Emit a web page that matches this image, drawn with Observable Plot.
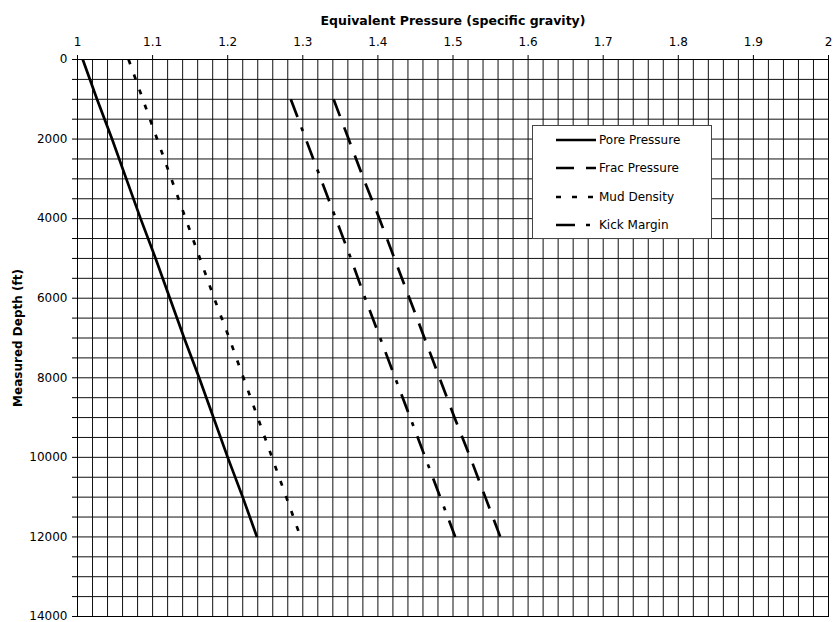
<!DOCTYPE html>
<html>
<head>
<meta charset="utf-8">
<script src="https://cdn.jsdelivr.net/npm/d3@7"></script>
<script src="https://cdn.jsdelivr.net/npm/@observablehq/plot@0.6"></script>
<style>
  html, body { margin: 0; padding: 0; background: #fff; }
  #wrap { position: relative; width: 836px; height: 622px; font-family: "DejaVu Sans", sans-serif; }
  #legend { position: absolute; left: 532px; top: 125px; width: 178px; height: 112px; border: 1px solid #444; background: #fff; box-sizing: content-box; }
  .row { position: absolute; left: 0; height: 16px; display: flex; align-items: center; font-size: 12px; color: #000; }
  .row svg { margin-left: 23px; margin-right: 3px; }
</style>
</head>
<body>
<div id="wrap"></div>
<script>
// ---- data ----
const depthsFull = [0, 1000, 2000, 3000, 4000, 5000, 6000, 7000, 8000, 9000, 10000, 11000, 12000];
const depthsFrom1000 = [1000, 2000, 3000, 4000, 5000, 6000, 7000, 8000, 9000, 10000, 11000, 12000];
const porePressure = [1.007, 1.026, 1.046, 1.065, 1.084, 1.104, 1.123, 1.142, 1.162, 1.181, 1.200, 1.220, 1.239];
const mudDensity   = [1.068, 1.087, 1.106, 1.125, 1.144, 1.163, 1.182, 1.202, 1.221, 1.240, 1.259, 1.278, 1.297];
const fracPressure = [1.341, 1.361, 1.381, 1.402, 1.422, 1.442, 1.462, 1.482, 1.502, 1.523, 1.543, 1.563];
const kickMargin   = [1.284, 1.304, 1.324, 1.344, 1.364, 1.383, 1.403, 1.423, 1.443, 1.463, 1.483, 1.503];
const xTickLabels = [1, 1.1, 1.2, 1.3, 1.4, 1.5, 1.6, 1.7, 1.8, 1.9, 2];
const yTickLabels = [0, 2000, 4000, 6000, 8000, 10000, 12000, 14000];
const seriesNames = ["Pore Pressure", "Frac Pressure", "Mud Density", "Kick Margin"];
const dashes = {"Pore Pressure": null, "Frac Pressure": "18,12", "Mud Density": "5,11", "Kick Margin": "19,11,4,11"};
const xTitle = "Equivalent Pressure (specific gravity)";
const yTitle = "Measured Depth (ft)";

// ---- tables ----
const toRows = (depths, vals) => depths.map((d, i) => ({depth: d, sg: vals[i]}));
const tables = {
  "Pore Pressure": toRows(depthsFull, porePressure),
  "Frac Pressure": toRows(depthsFrom1000, fracPressure),
  "Mud Density": toRows(depthsFull, mudDensity),
  "Kick Margin": toRows(depthsFrom1000, kickMargin)
};
const xGrid = d3.range(0, 51).map(i => +(1 + i * 0.02).toFixed(2));
const yGrid = d3.range(0, 29).map(i => i * 500);

const lineW = 2.7;
const chart = Plot.plot({
  width: 836,
  height: 622,
  marginLeft: 77,
  marginRight: 8,
  marginTop: 59,
  marginBottom: 6,
  style: {fontFamily: "'DejaVu Sans', sans-serif", fontSize: "12px", color: "#000", background: "#fff", overflow: "visible"},
  x: {domain: [1, 2]},
  y: {domain: [0, 14000], reverse: true},
  marks: [
    Plot.ruleX(xGrid, {stroke: "#111", strokeWidth: 1}),
    Plot.ruleY(yGrid, {stroke: "#111", strokeWidth: 1}),
    Plot.frame({stroke: "#000", strokeWidth: 1}),
    Plot.axisX(xTickLabels, {anchor: "top", tickSize: 5, tickPadding: 9, tickFormat: d => String(d), label: null, fontSize: 12}),
    Plot.axisY(yGrid, {anchor: "left", tickSize: 5, tickPadding: 5, tickFormat: d => (yTickLabels.includes(d) ? String(d) : ""), label: null, fontSize: 12}),
    Plot.text([xTitle], {frameAnchor: "top", textAnchor: "middle", dy: -43, fontWeight: "bold", fontSize: 12.5}),
    Plot.text([yTitle], {frameAnchor: "left", textAnchor: "middle", rotate: -90, dx: -59, fontWeight: "bold", fontSize: 12}),
    ...seriesNames.map(name => Plot.line(tables[name], {
      x: "sg", y: "depth", stroke: "#000", strokeWidth: lineW,
      strokeDasharray: dashes[name], strokeLinecap: "butt"
    }))
  ]
});

const wrap = document.getElementById("wrap");
wrap.appendChild(chart);

// ---- legend ----
const legend = document.createElement("div");
legend.id = "legend";
const rowTops = [6, 34, 63, 91];
seriesNames.forEach((name, i) => {
  const row = document.createElement("div");
  row.className = "row";
  row.style.top = rowTops[i] + "px";
  const sw = d3.create("svg").attr("width", 40).attr("height", 16);
  sw.append("line").attr("x1", 0).attr("x2", 40).attr("y1", 8).attr("y2", 8)
    .attr("stroke", "#000").attr("stroke-width", lineW)
    .attr("stroke-dasharray", dashes[name]);
  row.appendChild(sw.node());
  const t = document.createElement("span");
  t.textContent = name;
  row.appendChild(t);
  legend.appendChild(row);
});
wrap.appendChild(legend);
</script>
</body>
</html>
